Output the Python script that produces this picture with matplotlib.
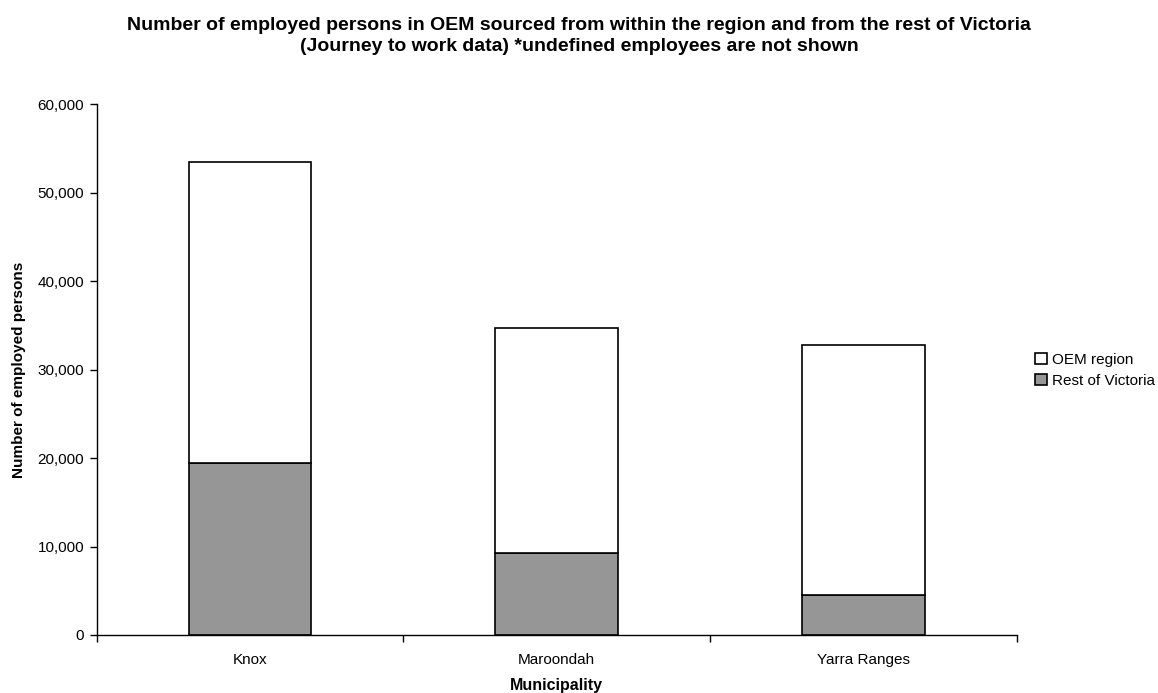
import matplotlib
matplotlib.use("Agg")
import matplotlib.pyplot as plt
from matplotlib.ticker import FuncFormatter, FixedLocator
import numpy as np

plt.rcParams['font.family'] = ['Liberation Sans', 'DejaVu Sans']

municipalities = ["Knox", "Maroondah", "Yarra Ranges"]
rest_of_victoria = [19450, 9250, 4550]
oem_region_total = [53500, 34700, 32800]
oem_region = [t - r for t, r in zip(oem_region_total, rest_of_victoria)]

fig = plt.figure(figsize=(11.58, 6.93), dpi=100)
ax = fig.add_axes([0.0835, 0.0837, 0.7945, 0.7658])

x = np.arange(len(municipalities))
w = 0.4
ax.bar(x, rest_of_victoria, width=w, color="#969696", edgecolor="black",
       linewidth=1.2, label="Rest of Victoria")
ax.bar(x, oem_region, width=w, bottom=rest_of_victoria, color="white",
       edgecolor="black", linewidth=1.2, label="OEM region")

ax.set_xlim(-0.5, len(municipalities) - 0.5)
ax.set_ylim(0, 60000)
ax.set_yticks(np.arange(0, 60001, 10000))
ax.yaxis.set_major_formatter(FuncFormatter(lambda v, p: f"{int(v):,}"))

ax.set_xticks(x)
ax.set_xticklabels(municipalities)
ax.xaxis.set_minor_locator(FixedLocator(np.arange(-0.5, len(municipalities), 1.0)))
ax.tick_params(axis="x", which="major", length=0, pad=13, labelsize=11)
ax.tick_params(axis="x", which="minor", length=5, direction="out", width=1)
ax.tick_params(axis="y", length=5, direction="out", width=1, labelsize=11, pad=4)

for s in ["top", "right"]:
    ax.spines[s].set_visible(False)
ax.spines["left"].set_linewidth(1)
ax.spines["bottom"].set_linewidth(1)

ax.set_xlabel("Municipality", fontweight="bold", fontsize=11.5, labelpad=8)
ax.set_ylabel("Number of employed persons", fontweight="bold", fontsize=11, labelpad=8)

fig.suptitle("Number of employed persons in OEM sourced from within the region and from the rest of Victoria\n"
             "(Journey to work data) *undefined employees are not shown",
             fontweight="bold", fontsize=14, y=0.976, x=0.5, linespacing=1.3)

handles, labels = ax.get_legend_handles_labels()
fig.legend(handles[::-1], labels[::-1], loc="upper left", bbox_to_anchor=(0.8885, 0.5),
           frameon=False, fontsize=11, handlelength=0.8, handleheight=0.8,
           handletextpad=0.3, labelspacing=0.45, borderaxespad=0)

fig.savefig("out.png", dpi=100)
